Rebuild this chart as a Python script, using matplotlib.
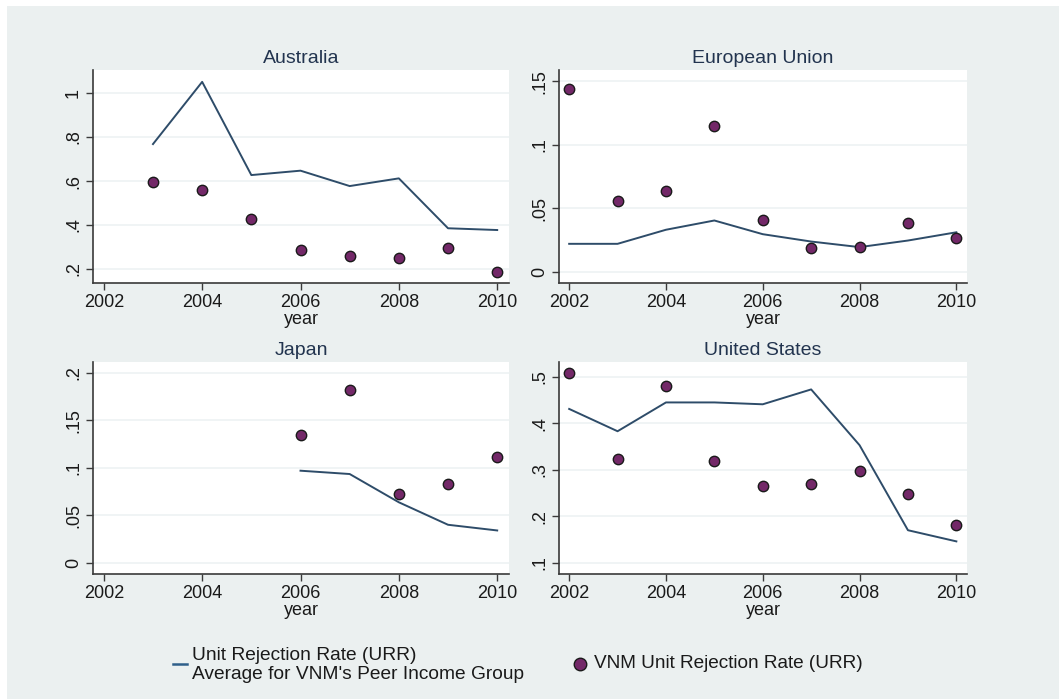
import matplotlib
matplotlib.use("Agg")
import matplotlib.pyplot as plt
from matplotlib.lines import Line2D
from matplotlib.patches import Rectangle

plt.rcParams['font.family'] = ['Liberation Sans', 'DejaVu Sans']

# Yearly series per partner market
regions = ["Australia", "European Union", "Japan", "United States"]

aus_years = [2003, 2004, 2005, 2006, 2007, 2008, 2009, 2010]
aus_peer = [0.768, 1.051, 0.627, 0.647, 0.577, 0.612, 0.385, 0.377]
aus_vnm = [0.595, 0.558, 0.429, 0.286, 0.259, 0.251, 0.294, 0.185]

eu_years = [2002, 2003, 2004, 2005, 2006, 2007, 2008, 2009, 2010]
eu_peer = [0.0219, 0.0219, 0.0330, 0.0403, 0.0295, 0.0237, 0.0193, 0.0245, 0.0310]
eu_vnm = [0.1440, 0.0558, 0.0637, 0.1148, 0.0406, 0.0190, 0.0193, 0.0384, 0.0266]

jpn_years = [2006, 2007, 2008, 2009, 2010]
jpn_peer = [0.0970, 0.0935, 0.0637, 0.0400, 0.0340]
jpn_vnm = [0.1350, 0.1824, 0.0728, 0.0826, 0.1117]

us_years = [2002, 2003, 2004, 2005, 2006, 2007, 2008, 2009, 2010]
us_peer = [0.431, 0.383, 0.445, 0.445, 0.441, 0.473, 0.353, 0.170, 0.146]
us_vnm = [0.509, 0.323, 0.480, 0.318, 0.265, 0.270, 0.297, 0.247, 0.181]

x_ticks = [2002, 2004, 2006, 2008, 2010]
aus_yticks = [0.2, 0.4, 0.6, 0.8, 1.0]
aus_ylabels = [".2", ".4", ".6", ".8", "1"]
eu_yticks = [0.0, 0.05, 0.10, 0.15]
eu_ylabels = ["0", ".05", ".1", ".15"]
jpn_yticks = [0.0, 0.05, 0.10, 0.15, 0.20]
jpn_ylabels = ["0", ".05", ".1", ".15", ".2"]
us_yticks = [0.1, 0.2, 0.3, 0.4, 0.5]
us_ylabels = [".1", ".2", ".3", ".4", ".5"]

legend_labels = ["Unit Rejection Rate (URR)\nAverage for VNM's Peer Income Group",
                 "VNM Unit Rejection Rate (URR)"]

BG = "#EBF0F0"
LINE_C = "#2E4C69"
DOT_FILL = "#732868"
TITLE_C = "#22344F"
AX_C = "#3a3a3a"

fig = plt.figure(figsize=(10.59, 6.99), dpi=100)
fig.patch.set_facecolor("white")
fig.add_artist(Rectangle((7 / 1059, 0), 1 - 7 / 1059, 1 - 6 / 699,
                         transform=fig.transFigure, facecolor=BG,
                         edgecolor="none", zorder=-10))

W, H = 1059, 699
boxes = [
    (93, 509, 70, 283),
    (559, 967, 70, 283),
    (93, 509, 362, 574),
    (559, 967, 362, 574),
]
ylims = [(0.136, 1.105), (-0.009, 0.159), (-0.0119, 0.2116), (0.0758, 0.532)]
data = [
    (aus_years, aus_peer, aus_vnm, aus_yticks, aus_ylabels),
    (eu_years, eu_peer, eu_vnm, eu_yticks, eu_ylabels),
    (jpn_years, jpn_peer, jpn_vnm, jpn_yticks, jpn_ylabels),
    (us_years, us_peer, us_vnm, us_yticks, us_ylabels),
]

for i, (name, (l, r, t, b), ylim, (yrs, peer, vnm, yt, yl)) in enumerate(
        zip(regions, boxes, ylims, data)):
    ax = fig.add_axes([l / W, 1 - b / H, (r - l) / W, (b - t) / H])
    ax.set_facecolor("white")
    ax.plot(yrs, peer, color=LINE_C, lw=1.4, zorder=3)
    ax.scatter(yrs, vnm, s=56, color=DOT_FILL, edgecolors="#1a1a1a",
               linewidths=1.0, zorder=4)
    if i % 2 == 0:
        ax.set_xlim(2001.78, 2010.24)
    else:
        ax.set_xlim(2001.79, 2010.22)
    ax.set_ylim(*ylim)
    ax.set_xticks(x_ticks)
    ax.set_xticklabels([str(v) for v in x_ticks])
    ax.set_yticks(yt)
    ax.set_yticklabels(yl, rotation=90, va="center")
    ax.grid(axis="y", color="#EDF2F3", lw=1.2, zorder=0)
    ax.set_axisbelow(True)
    for side in ["top", "right"]:
        ax.spines[side].set_visible(False)
    for side in ["left", "bottom"]:
        ax.spines[side].set_color(AX_C)
        ax.spines[side].set_linewidth(1.2)
    ax.tick_params(axis="both", colors=AX_C, labelcolor="#1a1a1a",
                   labelsize=13, length=5, width=1.0, direction="out")
    ax.tick_params(axis="y", pad=3)
    ax.tick_params(axis="x", pad=3)
    ax.set_xlabel("year", fontsize=13, color="#1a1a1a", labelpad=0)
    ax.set_title(name, fontsize=14, color=TITLE_C, pad=5)

# Legend beneath the panels
fig.add_artist(Line2D([173 / W, 187 / W], [1 - 664 / H, 1 - 664 / H],
                      transform=fig.transFigure, color="#2F5F8A", lw=1.8))
fig.text(192 / W, 1 - 665 / H, legend_labels[0], fontsize=13.8,
         color="#1a1a1a", va="center", ha="left", linespacing=1.15)
fig.add_artist(Line2D([580 / W], [1 - 664 / H], transform=fig.transFigure,
                      marker="o", markersize=9, markerfacecolor=DOT_FILL,
                      markeredgecolor="#1a1a1a", markeredgewidth=1.0,
                      linestyle="none"))
fig.text(594 / W, 1 - 664 / H, legend_labels[1], fontsize=13.7,
         color="#1a1a1a", va="center", ha="left")

fig.savefig("out.png", dpi=100, facecolor=fig.get_facecolor())
